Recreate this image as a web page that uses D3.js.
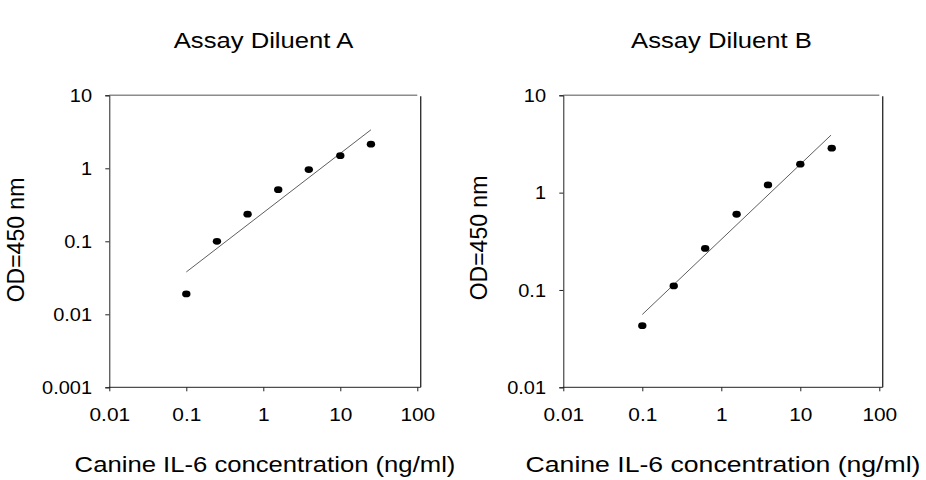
<!DOCTYPE html>
<meta charset="utf-8">
<head>
<style>
  body { margin: 0; background: #fff; }
  text { font-family: "Liberation Sans", Arial, sans-serif; fill: #000; }
</style>
</head>
<script src="https://d3js.org/d3.v7.min.js"></script>
<body>
  <div id="chart"></div>
</body>
<script>
  // concentrations of the standard curve (ng/ml)
  var conc = [0.1, 0.25, 0.625, 1.5625, 3.9, 10, 25];

  // OD readings for each diluent
  var odA = [0.019, 0.1, 0.235, 0.51, 0.96, 1.49, 2.14];
  var odB = [0.043, 0.11, 0.267, 0.6, 1.2, 1.96, 2.86];

  // trend line end points
  var fitXA = [0.1, 25], fitYA = [0.038, 3.37];
  var fitXB = [0.1, 24.5], fitYB = [0.056, 3.9];

  var titles = ["Assay Diluent A", "Assay Diluent B"];
  var xTicks = [0.01, 0.1, 1, 10, 100];
  var yTicksA = [0.001, 0.01, 0.1, 1, 10];
  var yTicksB = [0.01, 0.1, 1, 10];
  var xLabel = "Canine IL-6 concentration (ng/ml)";
  var yLabel = "OD=450 nm";

  var svg = d3.select("#chart").append("svg")
      .attr("width", 926)
      .attr("height", 480);

  var panels = [
    { title: titles[0], od: odA, fx: fitXA, fy: fitYA, yTicks: yTicksA,
      left: 109.3, right: 417.3, labelX: 23.5, labelY: 240, xStretch: 1.167 },
    { title: titles[1], od: odB, fx: fitXB, fy: fitYB, yTicks: yTicksB,
      left: 563.3, right: 879.3, labelX: 486.5, labelY: 238, xStretch: 1.21 }
  ];

  var plotTop = 95.3, plotBottom = 387.3;

  panels.forEach(function(p) {
    var x = d3.scaleLog().domain([0.01, 100]).range([p.left, p.right]);
    var y = d3.scaleLog()
        .domain([p.yTicks[0], p.yTicks[p.yTicks.length - 1]])
        .range([plotBottom, plotTop]);
    var mid = (p.left + p.right + 3.4) / 2;

    // top and right frame
    svg.append("line")
        .attr("x1", p.left).attr("x2", p.right)
        .attr("y1", plotTop).attr("y2", plotTop)
        .attr("stroke", "#8c8c8c").attr("stroke-width", 1.6);
    svg.append("line")
        .attr("x1", p.right + 3.4).attr("x2", p.right + 3.4)
        .attr("y1", plotTop + 1).attr("y2", plotBottom)
        .attr("stroke", "#333").attr("stroke-width", 1.4);

    // x axis
    var gx = svg.append("g")
        .attr("transform", "translate(0," + plotBottom + ")")
        .call(d3.axisBottom(x).tickValues(xTicks).tickSize(4)
              .tickFormat(d3.format("~g")))
        .attr("font-size", 18.5)
        .attr("font-family", "'Liberation Sans', Arial, sans-serif");
    gx.select(".domain").attr("stroke", "#222").attr("d",
        "M" + (p.left - 0.5) + ",0H" + (p.right + 3.4));
    gx.selectAll(".tick line").attr("stroke", "#222");
    gx.selectAll(".tick text")
        .attr("y", 33.7).attr("dy", null)
        .attr("transform", "scale(1.13,1)");

    // y axis
    var gy = svg.append("g")
        .attr("transform", "translate(" + p.left + ",0)")
        .call(d3.axisLeft(y).tickValues(p.yTicks).tickSize(4)
              .tickFormat(d3.format("~g")))
        .attr("font-size", 18.5)
        .attr("font-family", "'Liberation Sans', Arial, sans-serif");
    gy.select(".domain").attr("stroke", "#222");
    gy.selectAll(".tick line").attr("stroke", "#222");
    gy.selectAll(".tick text")
        .attr("x", -16).attr("dy", "0.34em")
        .attr("transform", "scale(1.08,1)");

    // trend line
    svg.append("path")
        .datum(d3.zip(p.fx, p.fy))
        .attr("fill", "none")
        .attr("stroke", "#5e5e5e")
        .attr("stroke-width", 1)
        .attr("d", d3.line()
            .x(function(d) { return x(d[0]); })
            .y(function(d) { return y(d[1]); }));

    // data points
    svg.append("g").selectAll("ellipse")
        .data(d3.zip(conc, p.od))
        .enter()
        .append("ellipse")
          .attr("cx", function(d) { return x(d[0]); })
          .attr("cy", function(d) { return y(d[1]); })
          .attr("rx", 4.2)
          .attr("ry", 3.4)
          .attr("fill", "#000");

    // title
    svg.append("text")
        .attr("transform", "translate(" + (mid - 1.5) + ",48.3) scale(1.166,1)")
        .attr("text-anchor", "middle")
        .style("font-size", "22px")
        .text(p.title);

    // x axis label
    svg.append("text")
        .attr("transform", "translate(" + mid + ",472.3) scale(" + p.xStretch + ",1)")
        .attr("text-anchor", "middle")
        .style("font-size", "22px")
        .text(xLabel);

    // y axis label
    svg.append("text")
        .attr("transform", "translate(" + p.labelX + "," + p.labelY + ") rotate(-90)")
        .attr("text-anchor", "middle")
        .style("font-size", "23px")
        .text(yLabel);
  });
</script>
